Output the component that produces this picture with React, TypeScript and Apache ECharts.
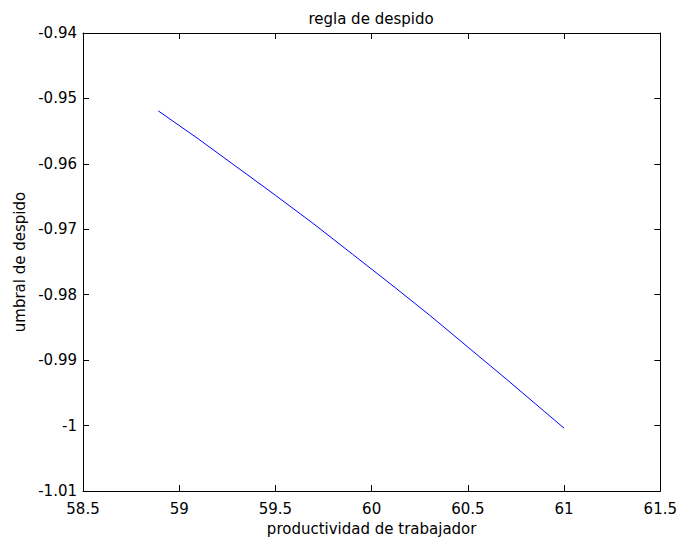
import React, { useEffect, useRef } from "react";
import * as echarts from "echarts";

// productividad de trabajador vs umbral de despido
const productividad: number[] = [58.891, 59.1, 59.3, 59.5, 59.7, 59.9, 60.1, 60.3, 60.5, 60.7, 60.9, 61.0];
const umbral: number[] = [-0.9519, -0.9562, -0.9605, -0.9648, -0.9692, -0.9738, -0.9784, -0.9831, -0.988, -0.9929, -0.9979, -1.0004];

const xMin = 58.5;
const xMax = 61.5;
const xStep = 0.5;
const yMin = -1.01;
const yMax = -0.94;
const yStep = 0.01;

const titleText = "regla de despido";
const xName = "productividad de trabajador";
const yName = "umbral de despido";

const FONT = "'DejaVu Sans', sans-serif";
const FS = 15;

export default function App() {
  const ref = useRef<HTMLDivElement>(null);

  useEffect(() => {
    if (!ref.current) return;
    const chart = echarts.init(ref.current, null, { renderer: "svg" });
    const data = productividad.map((x, i) => [x, umbral[i]]);
    const tickStyle = { show: true, inside: true, length: 6, lineStyle: { color: "#000", width: 1 } };
    const lineStyle = { show: true, onZero: false, lineStyle: { color: "#000", width: 1 } };
    const fmt = (v: number) => String(Number(v.toFixed(2)));

    chart.setOption({
      animation: false,
      backgroundColor: "#fff",
      title: {
        text: titleText,
        left: 371,
        top: 11,
        padding: 0,
        textAlign: "center",
        textStyle: { fontFamily: FONT, fontSize: FS, fontWeight: "normal", color: "#000" },
      },
      grid: { left: 83, right: 14, top: 33, bottom: 53, containLabel: false },
      xAxis: [
        {
          type: "value",
          position: "bottom",
          min: xMin,
          max: xMax,
          interval: xStep,
          name: xName,
          nameLocation: "middle",
          nameGap: 30,
          nameTextStyle: { fontFamily: FONT, fontSize: FS, color: "#000" },
          axisLine: lineStyle,
          axisTick: tickStyle,
          splitLine: { show: false },
          axisLabel: { fontFamily: FONT, fontSize: FS, color: "#000", margin: 10, formatter: fmt },
        },
        {
          type: "value",
          position: "top",
          min: xMin,
          max: xMax,
          interval: xStep,
          axisLine: lineStyle,
          axisTick: tickStyle,
          splitLine: { show: false },
          axisLabel: { show: false },
        },
      ],
      yAxis: [
        {
          type: "value",
          position: "left",
          min: yMin,
          max: yMax,
          interval: yStep,
          name: yName,
          nameLocation: "middle",
          nameGap: 49,
          nameRotate: 90,
          nameTextStyle: { fontFamily: FONT, fontSize: FS, color: "#000" },
          axisLine: lineStyle,
          axisTick: tickStyle,
          splitLine: { show: false },
          axisLabel: { fontFamily: FONT, fontSize: FS, color: "#000", margin: 6, formatter: fmt },
        },
        {
          type: "value",
          position: "right",
          min: yMin,
          max: yMax,
          interval: yStep,
          axisLine: lineStyle,
          axisTick: tickStyle,
          splitLine: { show: false },
          axisLabel: { show: false },
        },
      ],
      series: [
        {
          type: "line",
          data,
          xAxisIndex: 0,
          yAxisIndex: 0,
          showSymbol: false,
          smooth: false,
          lineStyle: { color: "#0000ff", width: 1 },
        },
      ],
    });
    return () => chart.dispose();
  }, []);

  return (
    <div
      ref={ref}
      style={{ position: "fixed", left: 0, top: 0, width: 680, height: 544 }}
    />
  );
}
